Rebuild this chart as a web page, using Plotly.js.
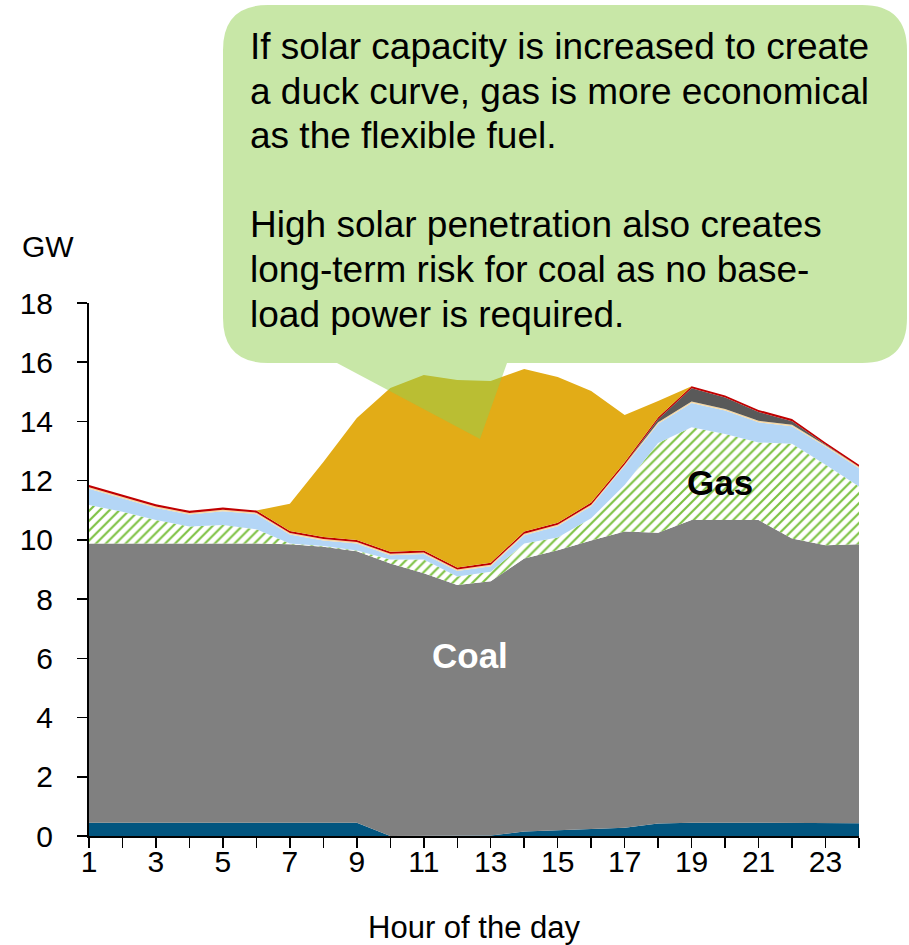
<!DOCTYPE html>
<html>
<head>
<meta charset="utf-8">
<script src="https://cdn.plot.ly/plotly-3.0.1.min.js"></script>
<style>html,body{margin:0;padding:0;background:#fff;}#chart{width:909px;height:945px;}</style>
</head>
<body>
<div id="chart"></div>
<script>
// ---- Data (GW per hour of the day) ----
const hours = [1,2,3,4,5,6,7,8,9,10,11,12,13,14,15,16,17,18,19,20,21,22,23,24];
const hydro = [0.45,0.45,0.45,0.45,0.45,0.45,0.45,0.45,0.45,0,0,0,0.02,0.15,0.19,0.24,0.28,0.42,0.45,0.45,0.45,0.43,0.43,0.43];
const coal = [9.43,9.43,9.43,9.43,9.43,9.43,9.40,9.32,9.17,9.20,8.87,8.48,8.58,9.22,9.46,9.74,10.00,9.82,10.22,10.22,10.22,9.62,9.39,9.42];
const gas = [1.30,1.07,0.79,0.57,0.62,0.48,0.03,0.02,0.02,0.14,0.47,0.28,0.32,0.51,0.43,0.75,1.57,3.03,3.13,2.91,2.62,3.20,2.72,1.95];
const otherBlue = [0.55,0.45,0.41,0.41,0.47,0.51,0.30,0.19,0.24,0.14,0.18,0.19,0.19,0.28,0.38,0.41,0.65,0.65,0.82,0.79,0.68,0.59,0.61,0.62];
const tanLayer = [0.05,0.05,0.05,0.05,0.05,0.05,0.05,0.05,0.05,0.05,0.05,0.05,0.05,0.05,0.05,0.05,0.05,0.05,0.05,0.05,0.05,0.05,0.05,0.05];
const peaker = [0,0,0,0,0,0,0,0,0,0,0,0,0,0,0,0,0,0.10,0.45,0.39,0.30,0.12,0.02,0];
const oil = [0.07,0.07,0.07,0.07,0.07,0.07,0.07,0.07,0.07,0.07,0.07,0.07,0.07,0.07,0.07,0.07,0.07,0.07,0.07,0.07,0.07,0.07,0.07,0.07];
const solar = [0,0,0,0,0,0,0.92,2.53,4.12,5.53,5.93,6.33,6.14,5.49,4.92,3.77,1.60,0.55,0,0,0,0,0,0];

const xTickVals = hours;
const xTickText = hours.map(h => (h % 2 === 1 ? String(h) : ''));

const calloutLines = [
  'If solar capacity is increased to create',
  'a duck curve, gas is more economical',
  'as the flexible fuel.',
  'High solar penetration also creates',
  'long-term risk for coal as no base-',
  'load power is required.'
];

// ---- Layout geometry (pixels) ----
const W = 909, H = 945;
const ML = 89, MR = 50, MT = 303, MB = 109;
const PW = W - ML - MR, PH = H - MT - MB;
const px = x => (x - ML) / PW;
const py = y => (H - MB - y) / PH;
const P = (x, y) => px(x).toFixed(5) + ',' + py(y).toFixed(5);

const FONT = 'Liberation Sans, Arial, sans-serif';

function layer(name, y, color, extra) {
  return Object.assign({
    type: 'scatter', mode: 'lines', name: name, x: hours, y: y,
    stackgroup: 'one', fillcolor: color,
    line: {width: 0, color: color}, hoverinfo: 'skip'
  }, extra || {});
}

const traces = [
  layer('Hydro', hydro, '#02557f'),
  layer('Coal', coal, '#808080'),
  layer('Gas', gas, '#ffffff', {fillpattern: {shape: '/', fgcolor: '#7cc142', bgcolor: '#ffffff', size: 7, solidity: 0.3}}),
  layer('Other', otherBlue, '#b4d6f6'),
  layer('Biomass', tanLayer, '#f5d7a2'),
  layer('Peaker', peaker, '#595959'),
  layer('Oil', oil, '#c00000'),
  layer('Solar', solar, '#e2ac17')
];

// Callout bubble
const L = 223, R = 907, T = 5, B = 363, r = 45;
const calloutPath = [
  'M', P(L + r, T), 'L', P(R - r, T), 'Q', P(R, T), P(R, T + r),
  'L', P(R, B - r), 'Q', P(R, B), P(R - r, B),
  'L', P(507, B), 'L', P(480, 439), 'L', P(337, B),
  'L', P(L + r, B), 'Q', P(L, B), P(L, B - r),
  'L', P(L, T + r), 'Q', P(L, T), P(L + r, T), 'Z'
].join(' ');

const lineCenters = [46, 91, 135.5, 224.5, 269.5, 314];
const annotations = calloutLines.map((t, i) => ({
  xref: 'paper', yref: 'paper', x: px(248), y: py(lineCenters[i]),
  xanchor: 'left', yanchor: 'middle', align: 'left', showarrow: false,
  text: t, font: {family: FONT, size: 37, color: '#000000'}
}));
annotations.push({
  xref: 'paper', yref: 'paper', x: px(48), y: py(247), xanchor: 'center', yanchor: 'middle',
  showarrow: false, text: 'GW', font: {family: FONT, size: 30, color: '#000000'}
});
annotations.push({
  xref: 'paper', yref: 'paper', x: px(470), y: py(655), xanchor: 'center', yanchor: 'middle',
  showarrow: false, text: '<b>Coal</b>', font: {family: FONT, size: 35, color: '#ffffff'}
});
annotations.push({
  xref: 'paper', yref: 'paper', x: px(720), y: py(482), xanchor: 'center', yanchor: 'middle',
  showarrow: false, text: '<b>Gas</b>', font: {family: FONT, size: 35, color: '#000000'}
});

const layout = {
  width: W, height: H,
  margin: {l: ML, r: MR, t: MT, b: MB, pad: 0},
  paper_bgcolor: '#ffffff', plot_bgcolor: '#ffffff',
  showlegend: false,
  font: {family: FONT, size: 30, color: '#000000'},
  xaxis: {
    range: [1, 24], tickvals: xTickVals, ticktext: xTickText,
    ticks: 'outside', ticklen: 10, tickwidth: 1.5, tickcolor: '#000',
    showline: true, linecolor: '#000', linewidth: 2,
    showgrid: false, zeroline: false,
    ticklabelstandoff: -12,
    tickfont: {family: FONT, size: 30, color: '#000'},
    title: {text: 'Hour of the day', font: {family: FONT, size: 31, color: '#000'}, standoff: 39}
  },
  yaxis: {
    range: [0, 18], dtick: 2, tick0: 0,
    ticks: 'outside', ticklen: 10, tickwidth: 1.5, tickcolor: '#000',
    showline: true, linecolor: '#000', linewidth: 2,
    showgrid: false, zeroline: false,
    ticklabelstandoff: 18,
    tickfont: {family: FONT, size: 30, color: '#000'}
  },
  shapes: [{
    type: 'path', xref: 'paper', yref: 'paper', path: calloutPath,
    fillcolor: '#92d050', opacity: 0.5, line: {width: 0}, layer: 'above'
  }],
  annotations: annotations
};

Plotly.newPlot('chart', traces, layout, {displayModeBar: false, staticPlot: true});
</script>
</body>
</html>
